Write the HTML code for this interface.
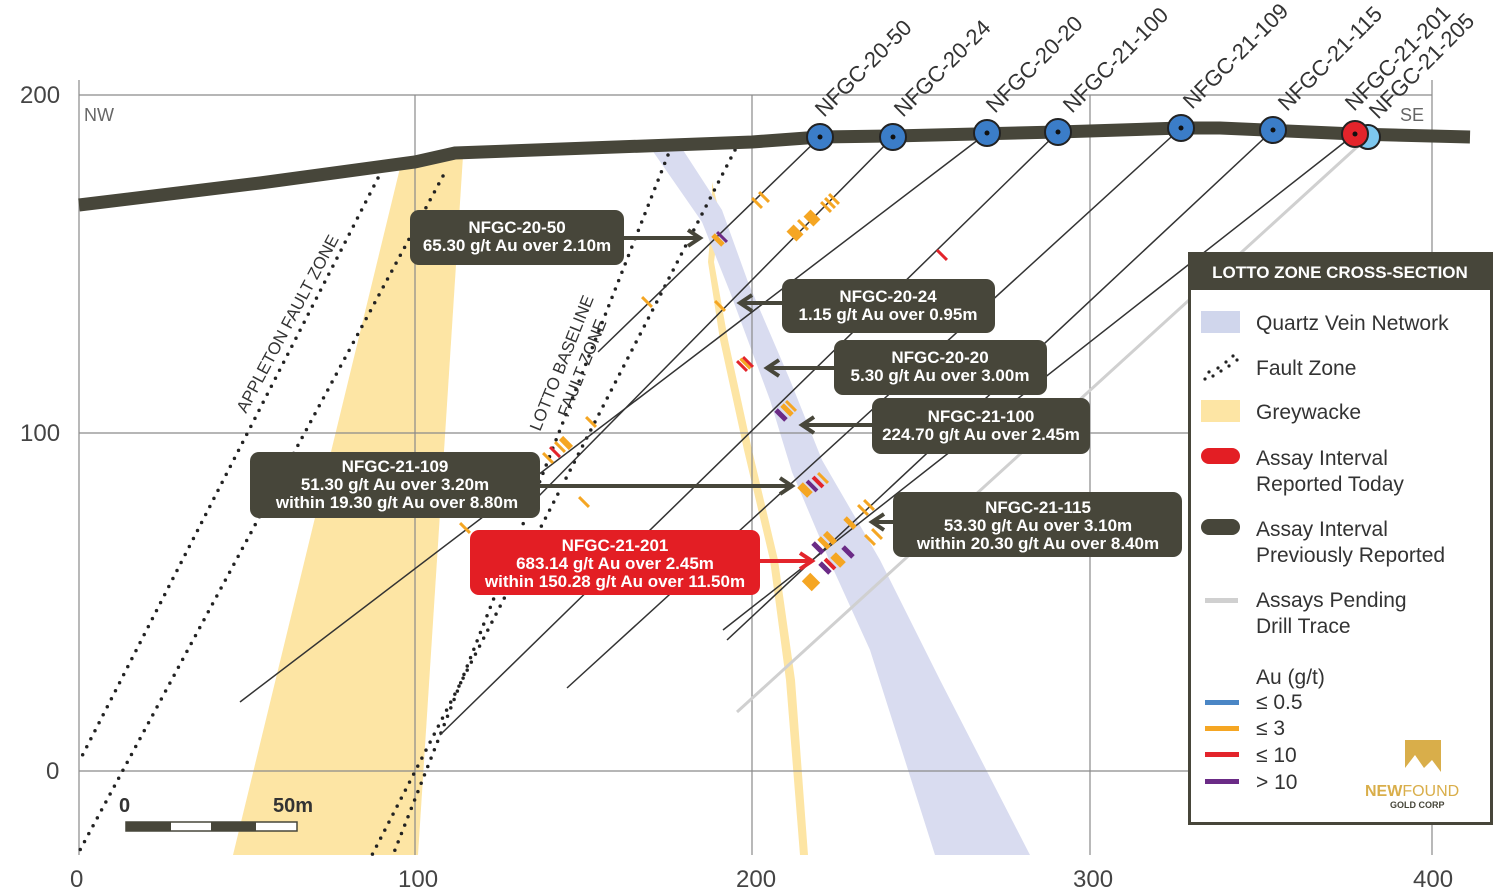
<!DOCTYPE html>
<html><head><meta charset="utf-8"><style>
html,body{margin:0;padding:0;background:#fff}
svg{display:block;font-family:"Liberation Sans",sans-serif}
</style></head><body>
<svg width="1500" height="893" viewBox="0 0 1500 893" xmlns="http://www.w3.org/2000/svg">
<rect width="1500" height="893" fill="#fff"/>
<polygon points="400,168 463,156 418,855 233,855" fill="#fde5a4"/>
<path d="M712,182 L720,215 L714,262 L728,340 L752,450 L778,560 L795,680 L808,855 L800,855 L786,680 L770,560 L744,450 L720,340 L708,262 L712,215 Z" fill="#fde5a4"/>
<polygon points="652,150 683,150 722,210 748,282 790,380 822,460 880,560 940,680 1030,855 935,855 870,650 830,562 792,472 770,400 730,292 702,222" fill="#d9dcf0"/>
<g stroke="#8a8a8a" stroke-width="1.2" fill="none">
<line x1="79" y1="95" x2="1432" y2="95"/>
<line x1="79" y1="433" x2="1470" y2="433"/>
<line x1="79" y1="771" x2="1470" y2="771"/>
<line x1="79" y1="80" x2="79" y2="855"/>
<line x1="415" y1="95" x2="415" y2="855"/>
<line x1="752" y1="95" x2="752" y2="855"/>
<line x1="1090" y1="95" x2="1090" y2="855"/>
<line x1="1432" y1="80" x2="1432" y2="855"/>
</g>
<g font-size="24" fill="#444">
<text x="20" y="103">200</text>
<text x="20" y="441">100</text>
<text x="46" y="779">0</text>
<text x="70" y="887">0</text>
<text x="398" y="887">100</text>
<text x="736" y="887">200</text>
<text x="1073" y="887">300</text>
<text x="1413" y="887">400</text>
</g>
<text x="84" y="121" font-size="18" fill="#666">NW</text>
<text x="1400" y="121" font-size="18" fill="#666">SE</text>
<g stroke="#222" stroke-width="3.5" stroke-linecap="round" stroke-dasharray="0 9" fill="none">
<line x1="378" y1="178" x2="80" y2="760"/>
<line x1="443" y1="176" x2="80" y2="850"/>
<line x1="668" y1="155" x2="393" y2="855"/>
<line x1="735" y1="150" x2="372" y2="855"/>
</g>
<text transform="translate(246,414) rotate(-62)" font-size="17" fill="#333">APPLETON FAULT ZONE</text>
<text transform="translate(540,432) rotate(-68)" font-size="17" fill="#333">LOTTO BASELINE</text>
<text transform="translate(568,418) rotate(-68)" font-size="17" fill="#333">FAULT ZONE</text>
<g stroke="#333" stroke-width="1.5" fill="none">
<line x1="820" y1="137" x2="598" y2="352"/>
<line x1="893" y1="137" x2="530" y2="505"/>
<line x1="987" y1="133" x2="240" y2="702"/>
<line x1="1058" y1="132" x2="440" y2="735"/>
<line x1="1181" y1="128" x2="567" y2="688"/>
<line x1="1273" y1="130" x2="727" y2="640"/>
<line x1="1355" y1="134" x2="723" y2="630"/>
</g>
<line x1="1368" y1="137" x2="737" y2="712" stroke="#d0d0d0" stroke-width="3"/>
<!-- assays: rect centred at (cx,cy), width along line, rotated -45 -->
<g>
<rect x="755.5" y="196" width="3" height="14" fill="#f5a623" transform="rotate(-45 757 203)"/>
<rect x="762.5" y="190" width="3" height="14" fill="#f5a623" transform="rotate(-45 764 197)"/>
<rect x="790" y="226" width="10" height="14" fill="#f5a623" transform="rotate(-45 795 233)"/>
<rect x="801.5" y="218" width="3" height="14" fill="#f5a623" transform="rotate(-45 803 225)"/>
<rect x="807" y="211" width="10" height="14" fill="#f5a623" transform="rotate(-45 812 218)"/>
<rect x="824.5" y="200" width="3" height="14" fill="#f5a623" transform="rotate(-45 826 207)"/>
<rect x="828.5" y="196" width="3" height="14" fill="#f5a623" transform="rotate(-45 830 203)"/>
<rect x="832.5" y="192" width="3" height="14" fill="#f5a623" transform="rotate(-45 834 199)"/>
<rect x="715.5" y="233" width="5" height="14" fill="#f5a623" transform="rotate(-45 718 240)"/>
<rect x="720.5" y="230" width="3" height="14" fill="#6b2b86" transform="rotate(-45 722 237)"/>
<rect x="645.5" y="295" width="3" height="14" fill="#f5a623" transform="rotate(-45 647 302)"/>
<rect x="718.5" y="299" width="3" height="14" fill="#f5a623" transform="rotate(-45 720 306)"/>
<rect x="940.5" y="248" width="3" height="14" fill="#e3242b" transform="rotate(-45 942 255)"/>
<rect x="740.5" y="359" width="3" height="14" fill="#e3242b" transform="rotate(-45 742 366)"/>
<rect x="744" y="357" width="3" height="14" fill="#f5a623" transform="rotate(-45 745 364)"/>
<rect x="746.5" y="355" width="3" height="14" fill="#e3242b" transform="rotate(-45 748 362)"/>
<rect x="778.5" y="408" width="5" height="14" fill="#6b2b86" transform="rotate(-45 781 415)"/>
<rect x="784.5" y="403" width="5" height="14" fill="#f5a623" transform="rotate(-45 787 410)"/>
<rect x="789.5" y="399" width="3" height="14" fill="#f5a623" transform="rotate(-45 791 406)"/>
<rect x="589.5" y="415" width="3" height="14" fill="#f5a623" transform="rotate(-45 591 422)"/>
<rect x="546.5" y="451" width="3" height="14" fill="#f5a623" transform="rotate(-45 548 458)"/>
<rect x="553.5" y="445" width="3" height="14" fill="#e3242b" transform="rotate(-45 555 452)"/>
<rect x="558.5" y="440" width="3" height="14" fill="#f5a623" transform="rotate(-45 560 447)"/>
<rect x="563" y="436" width="6" height="14" fill="#f5a623" transform="rotate(-45 566 443)"/>
<rect x="582.5" y="495" width="3" height="14" fill="#f5a623" transform="rotate(-45 584 502)"/>
<rect x="463.5" y="521" width="3" height="14" fill="#f5a623" transform="rotate(-45 465 528)"/>
<rect x="801" y="483" width="8" height="14" fill="#f5a623" transform="rotate(-45 805 490)"/>
<rect x="810" y="479" width="4" height="14" fill="#6b2b86" transform="rotate(-45 812 486)"/>
<rect x="816" y="475" width="4" height="14" fill="#e3242b" transform="rotate(-45 818 482)"/>
<rect x="821.5" y="471" width="3" height="14" fill="#f5a623" transform="rotate(-45 823 478)"/>
<rect x="847.5" y="516" width="5" height="14" fill="#f5a623" transform="rotate(-45 850 523)"/>
<rect x="861.5" y="503" width="3" height="14" fill="#f5a623" transform="rotate(-45 863 510)"/>
<rect x="867.5" y="498" width="3" height="14" fill="#f5a623" transform="rotate(-45 869 505)"/>
<rect x="868.5" y="533" width="3" height="14" fill="#f5a623" transform="rotate(-45 870 540)"/>
<rect x="875.5" y="527" width="3" height="14" fill="#f5a623" transform="rotate(-45 877 534)"/>
<rect x="815.5" y="541" width="5" height="14" fill="#6b2b86" transform="rotate(-45 818 548)"/>
<rect x="821.5" y="536" width="5" height="14" fill="#f5a623" transform="rotate(-45 824 543)"/>
<rect x="827" y="531" width="6" height="14" fill="#f5a623" transform="rotate(-45 830 538)"/>
<rect x="822.5" y="561" width="5" height="14" fill="#6b2b86" transform="rotate(-45 825 568)"/>
<rect x="828" y="557" width="4" height="14" fill="#e3242b" transform="rotate(-45 830 564)"/>
<rect x="834" y="553" width="8" height="14" fill="#f5a623" transform="rotate(-45 838 560)"/>
<rect x="845.5" y="545" width="5" height="14" fill="#6b2b86" transform="rotate(-45 848 552)"/>
<rect x="805" y="575" width="12" height="14" fill="#f5a623" transform="rotate(-45 811 582)"/>
</g>
<polyline points="79,205 260,183 415,162 455,153 752,142 820,137 893,136 1058,132 1181,128 1220,128 1355,134 1470,137" fill="none" stroke="#47463a" stroke-width="13"/>
<g stroke="#222" stroke-width="2">
<circle cx="820" cy="137" r="13" fill="#3b7dc8"/>
<circle cx="893" cy="137" r="13" fill="#3b7dc8"/>
<circle cx="987" cy="133" r="13" fill="#3b7dc8"/>
<circle cx="1058" cy="132" r="13" fill="#3b7dc8"/>
<circle cx="1181" cy="128" r="13" fill="#3b7dc8"/>
<circle cx="1273" cy="130" r="13" fill="#3b7dc8"/>
<circle cx="1368" cy="137" r="12" fill="#7ec8ef"/>
<circle cx="1355" cy="134" r="13" fill="#e3242b"/>
</g>
<g fill="#111">
<circle cx="820" cy="137" r="2.5"/><circle cx="893" cy="137" r="2.5"/><circle cx="987" cy="133" r="2.5"/><circle cx="1058" cy="132" r="2.5"/><circle cx="1181" cy="128" r="2.5"/><circle cx="1273" cy="130" r="2.5"/><circle cx="1355" cy="134" r="2.5"/>
</g>
<g font-size="22" fill="#333">
<text transform="translate(824,118) rotate(-45)">NFGC-20-50</text>
<text transform="translate(903,118) rotate(-45)">NFGC-20-24</text>
<text transform="translate(995,114) rotate(-45)">NFGC-20-20</text>
<text transform="translate(1072,114) rotate(-45)">NFGC-21-100</text>
<text transform="translate(1192,110) rotate(-45)">NFGC-21-109</text>
<text transform="translate(1287,112) rotate(-45)">NFGC-21-115</text>
<text transform="translate(1354,112) rotate(-45)">NFGC-21-201</text>
<text transform="translate(1378,120) rotate(-45)">NFGC-21-205</text>
</g>
<g stroke="#47463a" stroke-width="4" fill="none">
<line x1="620" y1="238" x2="698" y2="238"/><path d="M688,230 L700,238 L688,246"/>
<line x1="785" y1="303" x2="742" y2="303"/><path d="M752,295 L740,303 L752,311"/>
<line x1="836" y1="368" x2="769" y2="368"/><path d="M779,360 L767,368 L779,376"/>
<line x1="875" y1="425" x2="804" y2="425"/><path d="M814,417 L802,425 L814,433"/>
<line x1="538" y1="486" x2="790" y2="486"/><path d="M780,478 L792,486 L780,494"/>
<line x1="895" y1="522" x2="874" y2="522"/><path d="M884,514 L872,522 L884,530"/>
</g>
<g stroke="#e3242b" stroke-width="4" fill="none"><line x1="758" y1="561" x2="810" y2="561"/><path d="M800,553 L812,561 L800,569"/></g>
<g fill="#47463a">
<rect x="410" y="210" width="214" height="55" rx="9"/>
<rect x="782" y="279" width="213" height="54" rx="9"/>
<rect x="834" y="340" width="213" height="55" rx="9"/>
<rect x="872" y="398" width="218" height="56" rx="9"/>
<rect x="250" y="452" width="290" height="66" rx="9"/>
<rect x="893" y="492" width="289" height="65" rx="9"/>
</g>
<rect x="470" y="530" width="290" height="65" rx="9" fill="#e31e24"/>
<g font-size="17" fill="#fff" text-anchor="middle" font-weight="bold">
<text x="517" y="233">NFGC-20-50</text><text x="517" y="251">65.30 g/t Au over 2.10m</text>
<text x="888" y="302">NFGC-20-24</text><text x="888" y="320">1.15 g/t Au over 0.95m</text>
<text x="940" y="363">NFGC-20-20</text><text x="940" y="381">5.30 g/t Au over 3.00m</text>
<text x="981" y="422">NFGC-21-100</text><text x="981" y="440">224.70 g/t Au over 2.45m</text>
<text x="395" y="472">NFGC-21-109</text><text x="395" y="490">51.30 g/t Au over 3.20m</text><text x="397" y="508">within 19.30 g/t Au over 8.80m</text>
<text x="1038" y="513">NFGC-21-115</text><text x="1038" y="531">53.30 g/t Au over 3.10m</text><text x="1038" y="549">within 20.30 g/t Au over 8.40m</text>
<text x="615" y="551">NFGC-21-201</text><text x="615" y="569">683.14 g/t Au over 2.45m</text><text x="615" y="587">within 150.28 g/t Au over 11.50m</text>
</g>
<text x="119" y="812" font-size="20" font-weight="bold" fill="#333">0</text>
<text x="273" y="812" font-size="20" font-weight="bold" fill="#333">50m</text>
<rect x="126" y="822" width="171" height="9" fill="#fff" stroke="#47463a" stroke-width="1.5"/>
<rect x="126" y="822" width="45" height="9" fill="#47463a"/>
<rect x="211" y="822" width="45" height="9" fill="#47463a"/>
<rect x="1189.5" y="253.5" width="302" height="570" fill="#fff" stroke="#47463a" stroke-width="3"/>
<rect x="1189" y="253" width="303" height="37" fill="#47463a"/>
<text x="1340" y="278" font-size="17" font-weight="bold" fill="#fff" text-anchor="middle">LOTTO ZONE CROSS-SECTION</text>
<rect x="1201" y="311" width="39" height="22" fill="#d0d6ec"/>
<g fill="#222"><circle cx="1205" cy="379" r="1.6"/><circle cx="1213" cy="376" r="1.6"/><circle cx="1221" cy="371" r="1.6"/><circle cx="1229" cy="366" r="1.6"/><circle cx="1237" cy="360" r="1.6"/><circle cx="1209" cy="372" r="1.6"/><circle cx="1218" cy="368" r="1.6"/><circle cx="1226" cy="362" r="1.6"/><circle cx="1233" cy="356" r="1.6"/></g>
<rect x="1201" y="400" width="39" height="22" fill="#fde5a4"/>
<rect x="1201" y="448" width="39" height="16" rx="8" fill="#e31e24"/>
<rect x="1201" y="519" width="39" height="16" rx="8" fill="#47463a"/>
<rect x="1205" y="598" width="33" height="5" fill="#d0d0d0"/>
<g font-size="21" fill="#333">
<text x="1256" y="330">Quartz Vein Network</text>
<text x="1256" y="375">Fault Zone</text>
<text x="1256" y="419">Greywacke</text>
<text x="1256" y="465">Assay Interval</text><text x="1256" y="491">Reported Today</text>
<text x="1256" y="536">Assay Interval</text><text x="1256" y="562">Previously Reported</text>
<text x="1256" y="607">Assays Pending</text><text x="1256" y="633">Drill Trace</text>
<text x="1256" y="684">Au (g/t)</text>
<text x="1256" y="709">≤ 0.5</text>
<text x="1256" y="735">≤ 3</text>
<text x="1256" y="762">≤ 10</text>
<text x="1256" y="789">&gt; 10</text>
</g>
<rect x="1205" y="700" width="34" height="5" fill="#4a86c5"/>
<rect x="1205" y="726" width="34" height="5" fill="#f5a623"/>
<rect x="1205" y="752" width="34" height="5" fill="#e3242b"/>
<rect x="1205" y="779" width="34" height="5" fill="#6b2b86"/>
<path d="M1405,740 L1441,740 L1441,772 L1432,760 L1424,768 L1415,755 L1405,768 Z" fill="#d9ae4a"/>
<text x="1365" y="796" font-size="16" font-weight="bold" fill="#d9ae4a">NEW<tspan font-weight="normal">FOUND</tspan></text>
<text x="1390" y="808" font-size="9" font-weight="bold" fill="#47463a">GOLD CORP</text>
</svg>
</body></html>
